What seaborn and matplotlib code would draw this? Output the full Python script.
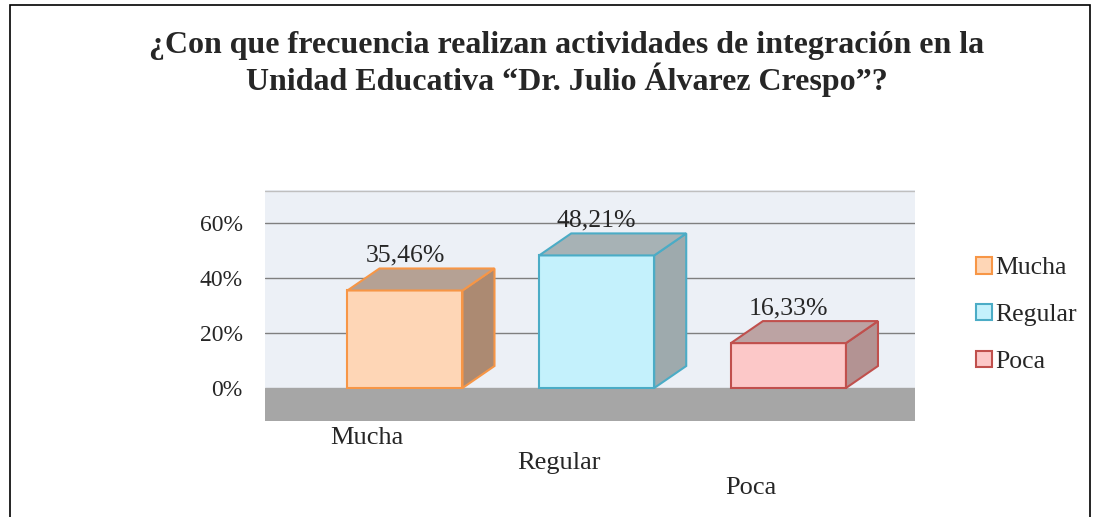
import matplotlib
matplotlib.use("Agg")
import matplotlib.pyplot as plt
import seaborn as sns
import pandas as pd
from matplotlib.patches import Rectangle, Polygon, Patch
from matplotlib.transforms import ScaledTranslation

categories = ["Mucha", "Regular", "Poca"]
values = [0.3546, 0.4821, 0.1633]
value_labels = ["35,46%", "48,21%", "16,33%"]
tick_values = [0.0, 0.2, 0.4, 0.6]
tick_labels = ["0%", "20%", "40%", "60%"]
face_colors = ["#fed6b6", "#c4f1fc", "#fcc8c8"]
edge_colors = ["#f79646", "#4bacc6", "#c0504d"]
side_colors = ["#ac8a72", "#9eaaad", "#b39393"]
top_colors = ["#b5a194", "#a7b2b5", "#bca3a3"]
title = "¿Con que frecuencia realizan actividades de integración en la\nUnidad Educativa “Dr. Julio Álvarez Crespo”?"

df = pd.DataFrame({"cat": categories, "val": values})

sns.set_theme(style="white")
plt.rcParams["font.family"] = ["Liberation Serif", "DejaVu Serif"]

W, H = 1099, 517
fig = plt.figure(figsize=(W / 100, H / 100), dpi=100)
fig.patch.set_facecolor("white")
fig.add_artist(Rectangle((10 / W, -0.1), 1080 / W, 1.1 - 5 / H, transform=fig.transFigure,
                         fill=False, edgecolor="black", linewidth=1.2))

ymin, ymax = -0.12, 0.72
left, right = 265 / W, 915 / W
y0px = 388
scale = 275.0
top_px = y0px - ymax * scale
bot_px = y0px - ymin * scale
ax = fig.add_axes([left, 1 - bot_px / H, right - left, (bot_px - top_px) / H])

ax.set_facecolor("#ecf0f6")
sns.barplot(data=df, x="cat", y="val", hue="cat", palette=face_colors, legend=False,
            width=0.6, saturation=1, ax=ax, zorder=3)
bars = [p for c in ax.containers for p in c]
ax.set_ylim(ymin, ymax)
ax.set_xlim(-0.73, 2.66)
ax.axhspan(ymin, 0, color="#a6a6a6", zorder=1)
for t in tick_values[1:]:
    ax.axhline(t, color="#7f7f7f", linewidth=1, zorder=2)
ax.axhline(ymax - 0.002, color="#bfbfbf", linewidth=1, zorder=2)

for spine in ax.spines.values():
    spine.set_visible(False)

ax.set_yticks(tick_values)
ax.set_yticklabels(tick_labels, fontsize=17)
ax.tick_params(axis="y", length=0, pad=16)
ax.tick_params(axis="x", length=0, pad=4, labelsize=19)
ax.set_xlabel("")
ax.set_ylabel("")

# staggered category labels like the perspective view
for i, lab in enumerate(ax.get_xticklabels()):
    lab.set_transform(lab.get_transform() +
                      ScaledTranslation(-0.38, -i * 25 / 100, fig.dpi_scale_trans))

# pseudo-3D depth faces
fig.canvas.draw()
dx, dy = 32, 22
inv = ax.transData.inverted()
for i, bar in enumerate(bars):
    bar.set_edgecolor(edge_colors[i])
    bar.set_linewidth(1.5)
    x0, yb = bar.get_x(), 0
    x1, yt = bar.get_x() + bar.get_width(), bar.get_height()
    (px0, pyb), (px1, pyt) = ax.transData.transform([(x0, yb), (x1, yt)])
    side = inv.transform([(px1, pyb), (px1 + dx, pyb + dy), (px1 + dx, pyt + dy), (px1, pyt)])
    top = inv.transform([(px0, pyt), (px0 + dx, pyt + dy), (px1 + dx, pyt + dy), (px1, pyt)])
    ax.add_patch(Polygon(side, closed=True, facecolor=side_colors[i], edgecolor=edge_colors[i],
                         linewidth=1.5, zorder=3))
    ax.add_patch(Polygon(top, closed=True, facecolor=top_colors[i], edgecolor=edge_colors[i],
                         linewidth=1.5, zorder=3))
    ax.annotate(value_labels[i], xy=((x0 + x1) / 2, yt), xytext=(0, 17), textcoords="offset points",
                ha="center", va="bottom", fontsize=18.5, zorder=5)

handles = [Patch(facecolor=face_colors[i], edgecolor=edge_colors[i], linewidth=1.5, label=categories[i])
           for i in range(3)]
fig.legend(handles=handles, loc="center left", bbox_to_anchor=(966 / W, 1 - 315 / H), frameon=False,
           fontsize=18.5, handlelength=0.6, handleheight=0.6, handletextpad=0.15, labelspacing=0.95,
           borderaxespad=0)

fig.text(567 / W, 1 - 64 / H, title, ha="center", va="center", fontsize=23, fontweight="bold",
         linespacing=1.12)

fig.savefig("out.png", dpi=100)
